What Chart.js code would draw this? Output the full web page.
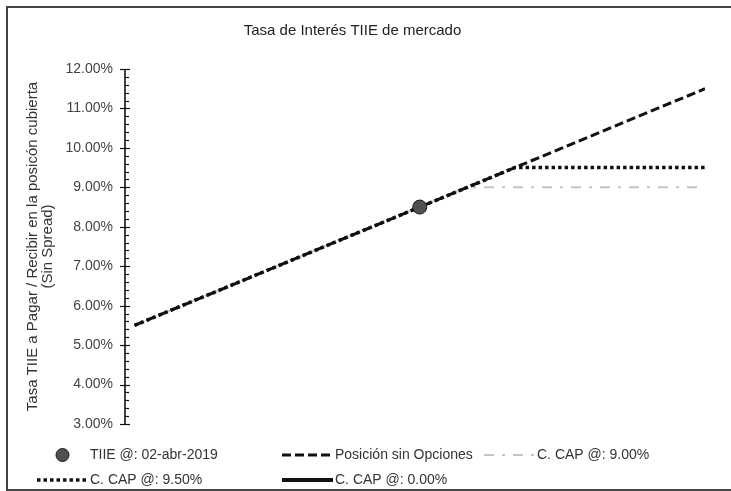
<!DOCTYPE html>
<html>
<head>
<meta charset="utf-8">
<title>Tasa de Interés TIIE de mercado</title>
<script src="https://cdn.jsdelivr.net/npm/chart.js@4.4.0/dist/chart.umd.min.js"></script>
<style>
  html, body { margin: 0; padding: 0; background: #fff; }
  #wrap { width: 731px; height: 491px; }
</style>
</head>
<body>
<div id="wrap"><canvas id="tiieChart" width="731" height="491"></canvas></div>
<script>
// Data
const tasas = [5.5, 6.0, 6.5, 7.0, 7.5, 8.0, 8.5, 9.0, 9.5, 10.0, 10.5, 11.0, 11.5];
const sinOpciones = [5.5, 6.0, 6.5, 7.0, 7.5, 8.0, 8.5, 9.0, 9.5, 10.0, 10.5, 11.0, 11.5];
const cap900 = [5.5, 6.0, 6.5, 7.0, 7.5, 8.0, 8.5, 9.0, 9.0, 9.0, 9.0, 9.0, 9.0];
const cap950 = [5.5, 6.0, 6.5, 7.0, 7.5, 8.0, 8.5, 9.0, 9.5, 9.5, 9.5, 9.5, 9.5];
const cap000 = [0, 0, 0, 0, 0, 0, 0, 0, 0, 0, 0, 0, 0];
const tiieHoy = [8.5];
const tiieHoyRate = [8.5];
const yTicks = [3, 4, 5, 6, 7, 8, 9, 10, 11, 12];

const FONT = '"Liberation Sans", Arial, sans-serif';

function toPoints(xs, ys) {
    return xs.map((x, i) => ({ x: x, y: ys[i] }));
}

// Frame around the chart (only top/left/bottom are visible in the scan)
const framePlugin = {
    id: 'frame',
    beforeDraw(chart) {
        const c = chart.ctx;
        c.save();
        c.fillStyle = '#fff';
        c.fillRect(0, 0, chart.width, chart.height);
        c.strokeStyle = '#444';
        c.lineWidth = 2;
        c.beginPath();
        c.moveTo(chart.width, 7);
        c.lineTo(7, 7);
        c.lineTo(7, 490);
        c.lineTo(chart.width, 490);
        c.stroke();
        c.restore();
    }
};

// Y axis line with major / minor tick marks
const axisPlugin = {
    id: 'yAxisTicks',
    afterDatasetsDraw(chart) {
        const y = chart.scales.y;
        const x0 = chart.chartArea.left;
        const c = chart.ctx;
        c.save();
        c.strokeStyle = '#111';
        c.lineWidth = 1.6;
        c.beginPath();
        c.moveTo(x0, y.getPixelForValue(12));
        c.lineTo(x0, y.getPixelForValue(3));
        c.stroke();
        c.lineWidth = 1.2;
        for (let i = 0; i <= 45; i++) {
            const v = 3 + i * 0.2;
            const py = Math.round(y.getPixelForValue(v)) + 0.5;
            const major = i % 5 === 0;
            c.beginPath();
            c.moveTo(major ? x0 - 5 : x0, py);
            c.lineTo(x0 + (major ? 5 : 4), py);
            c.stroke();
        }
        c.restore();
    }
};

// Legend laid out like the original (two rows, fixed columns)
const legendItems = [
    { ds: 0, col: 37, row: 455 },
    { ds: 1, col: 282, row: 455 },
    { ds: 2, col: 484, row: 455 },
    { ds: 3, col: 37, row: 480 },
    { ds: 4, col: 282, row: 480 }
];
const legendPlugin = {
    id: 'customLegend',
    afterDraw(chart) {
        const c = chart.ctx;
        c.save();
        c.font = '14px ' + FONT;
        c.textBaseline = 'middle';
        c.fillStyle = '#333';
        legendItems.forEach(item => {
            const ds = chart.data.datasets[item.ds];
            const sw = 51;
            if (ds.pointRadius > 0) {
                c.beginPath();
                c.arc(item.col + sw / 2, item.row, 6.5, 0, Math.PI * 2);
                c.fillStyle = ds.pointBackgroundColor;
                c.fill();
                c.strokeStyle = ds.pointBorderColor;
                c.lineWidth = 1;
                c.stroke();
            } else {
                c.beginPath();
                c.setLineDash(ds.borderDash || []);
                c.strokeStyle = ds.borderColor;
                c.lineWidth = ds.borderWidth;
                c.moveTo(item.col, item.row);
                c.lineTo(item.col + sw, item.row);
                c.stroke();
                c.setLineDash([]);
            }
            c.fillStyle = '#333';
            c.fillText(ds.label, item.col + sw + 2, item.row);
        });
        c.restore();
    }
};

const ctx = document.getElementById('tiieChart');
new Chart(ctx, {
    type: 'line',
    data: {
        datasets: [
            {
                label: 'TIIE @: 02-abr-2019',
                data: toPoints(tiieHoyRate, tiieHoy),
                showLine: false,
                pointRadius: 7,
                pointBackgroundColor: '#505050',
                pointBorderColor: '#1a1a1a',
                pointBorderWidth: 1,
                order: 0
            },
            {
                label: 'Posición sin Opciones',
                data: toPoints(tasas, sinOpciones),
                borderColor: '#111',
                borderWidth: 3,
                borderDash: [9, 4],
                pointRadius: 0,
                order: 3
            },
            {
                label: 'C. CAP @: 9.00%',
                data: toPoints(tasas, cap900),
                borderColor: '#c4c4c4',
                borderWidth: 2,
                borderDash: [10, 8, 3, 8],
                pointRadius: 0,
                order: 4
            },
            {
                label: 'C. CAP @: 9.50%',
                data: toPoints(tasas, cap950),
                borderColor: '#111',
                borderWidth: 3.5,
                borderDash: [3.5, 3],
                pointRadius: 0,
                order: 2
            },
            {
                label: 'C. CAP @: 0.00%',
                data: toPoints(tasas, cap000),
                borderColor: '#111',
                borderWidth: 4,
                pointRadius: 0,
                order: 5
            }
        ]
    },
    options: {
        responsive: false,
        animation: false,
        layout: {
            padding: { left: 0, right: 26, top: 0, bottom: 67 }
        },
        plugins: {
            legend: { display: false },
            tooltip: { enabled: false },
            title: {
                display: true,
                text: 'Tasa de Interés TIIE de mercado',
                color: '#222',
                font: { family: FONT, size: 15, weight: 'normal' },
                padding: { top: 22, bottom: 29 }
            }
        },
        scales: {
            x: {
                type: 'linear',
                display: false,
                min: 5.4,
                max: 11.5
            },
            y: {
                min: 3,
                max: 12,
                afterFit(scale) { scale.width = 125; },
                afterBuildTicks(scale) { scale.ticks = yTicks.map(v => ({ value: v })); },
                border: { display: false },
                grid: { display: false, drawTicks: false },
                ticks: {
                    padding: 12,
                    color: '#444',
                    font: { family: FONT, size: 14 },
                    callback: v => v.toFixed(2) + '%'
                },
                title: {
                    display: true,
                    text: ['Tasa TIIE a Pagar / Recibir en la posicón cubierta', '(Sin Spread)'],
                    color: '#333',
                    font: { family: FONT, size: 15, lineHeight: 1.0 },
                    padding: { top: 25 }
                }
            }
        }
    },
    plugins: [framePlugin, axisPlugin, legendPlugin]
});
</script>
</body>
</html>
